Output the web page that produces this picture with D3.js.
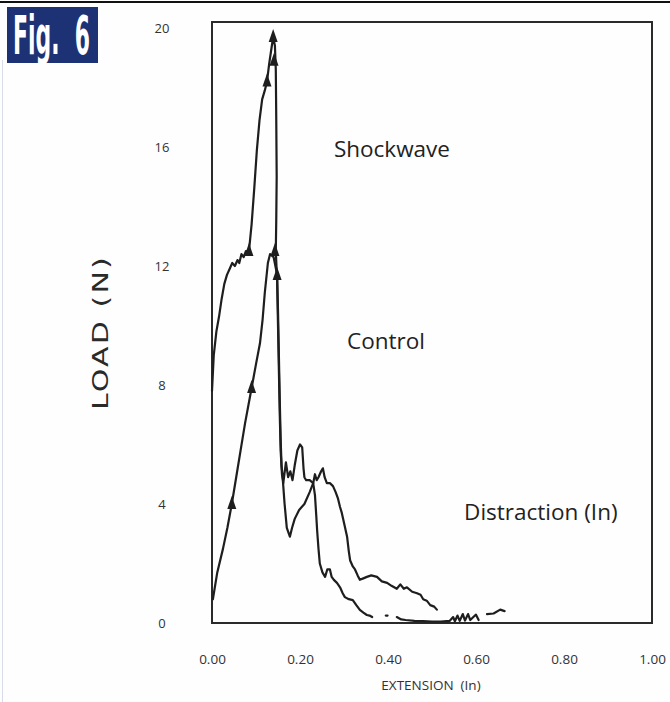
<!DOCTYPE html>
<html>
<head>
<meta charset="utf-8">
<script src="https://cdn.jsdelivr.net/npm/d3@7/dist/d3.min.js"></script>
<style>
    html, body { margin: 0; padding: 0; background: #fefefe; }
    svg { display: block; }
</style>
</head>
<body>
<svg id="chart" width="670" height="702"></svg>
<script>
// Load (N) vs extension (In)
var shockwave = [
    [0.000, 7.8], [0.004, 9.0], [0.010, 9.8], [0.016, 10.3], [0.022, 10.9], [0.028, 11.4],
    [0.034, 11.7], [0.040, 11.9], [0.046, 12.1], [0.052, 12.0], [0.058, 12.2], [0.062, 12.1],
    [0.067, 12.4], [0.072, 12.3], [0.077, 12.5], [0.084, 12.5], [0.090, 13.4], [0.096, 14.6],
    [0.102, 15.9], [0.108, 16.9], [0.114, 17.6], [0.120, 17.9], [0.125, 18.2], [0.130, 18.8],
    [0.135, 19.3], [0.139, 19.7], [0.143, 19.4], [0.145, 18.6], [0.146, 17.0], [0.147, 15.0],
    [0.146, 13.5], [0.145, 12.5], [0.148, 11.5], [0.150, 10.0], [0.152, 8.5], [0.154, 7.0],
    [0.156, 5.8], [0.159, 5.0], [0.161, 4.8], [0.165, 4.0], [0.170, 3.2], [0.177, 2.9],
    [0.182, 3.2], [0.188, 3.5], [0.198, 3.8], [0.210, 4.0], [0.222, 4.4], [0.230, 4.7],
    [0.234, 5.0], [0.238, 4.8], [0.242, 4.9], [0.248, 5.1], [0.252, 5.2], [0.256, 4.9],
    [0.261, 4.7], [0.268, 4.7], [0.275, 4.6], [0.281, 4.4], [0.286, 4.2], [0.291, 3.9],
    [0.295, 3.7], [0.301, 3.3], [0.307, 2.9], [0.311, 2.4], [0.314, 2.1], [0.320, 1.9],
    [0.325, 1.8], [0.331, 1.6], [0.336, 1.45], [0.344, 1.5], [0.352, 1.55], [0.362, 1.6],
    [0.375, 1.55], [0.386, 1.4], [0.398, 1.35], [0.408, 1.25], [0.420, 1.15], [0.428, 1.3],
    [0.436, 1.15], [0.443, 1.2], [0.455, 1.05], [0.466, 1.0], [0.474, 0.95], [0.480, 0.8],
    [0.488, 0.75], [0.496, 0.6], [0.505, 0.55], [0.511, 0.45]
];

var control = [
    [0.002, 0.8], [0.012, 1.7], [0.025, 2.5], [0.035, 3.2], [0.045, 4.0], [0.055, 4.9],
    [0.065, 5.8], [0.075, 6.7], [0.090, 7.9], [0.100, 8.7], [0.109, 9.4], [0.115, 10.2],
    [0.120, 11.1], [0.127, 12.1], [0.132, 12.4], [0.140, 12.3], [0.148, 11.7], [0.150, 10.5],
    [0.152, 9.0], [0.154, 7.5], [0.156, 6.2], [0.158, 5.3], [0.162, 4.7], [0.168, 5.4],
    [0.173, 4.9], [0.178, 5.1], [0.183, 4.8], [0.188, 5.3], [0.194, 5.8], [0.200, 6.0],
    [0.205, 5.9], [0.208, 5.2], [0.210, 4.9], [0.214, 4.8], [0.222, 4.8], [0.230, 4.7],
    [0.234, 4.3], [0.237, 3.6], [0.239, 3.1], [0.242, 2.5], [0.245, 2.0], [0.251, 1.7],
    [0.257, 1.55], [0.262, 1.8], [0.268, 1.8], [0.272, 1.55], [0.277, 1.45], [0.284, 1.35],
    [0.291, 1.2], [0.297, 1.0], [0.302, 0.87], [0.311, 0.8], [0.320, 0.77], [0.328, 0.6],
    [0.336, 0.44], [0.344, 0.35], [0.352, 0.27], [0.358, 0.25], [0.364, 0.2]
];

// bits of trace lying on the zero line
var tailSegments = [
    [[0.395, 0.25], [0.399, 0.25]],
    [[0.420, 0.2], [0.430, 0.12], [0.440, 0.1], [0.460, 0.07], [0.480, 0.06], [0.500, 0.05],
     [0.520, 0.05], [0.540, 0.07], [0.548, 0.2], [0.552, 0.06], [0.558, 0.25], [0.563, 0.07],
     [0.570, 0.3], [0.575, 0.08], [0.582, 0.3], [0.587, 0.1], [0.594, 0.2], [0.600, 0.28],
     [0.606, 0.1]],
    [[0.625, 0.3], [0.640, 0.32], [0.655, 0.45], [0.665, 0.4]]
];

var shockwaveMarks = [[0.084, 12.5], [0.125, 18.2], [0.139, 19.7], [0.141, 18.9], [0.143, 12.5]];
var controlMarks = [[0.045, 4.0], [0.090, 7.9], [0.148, 11.7]];

var yTicks = [0, 4, 8, 12, 16, 20];
var xTicks = [0, 0.2, 0.4, 0.6, 0.8, 1.0];

var labels = [
    { text: 'Shockwave', x: 0.277, y: 15.65 },
    { text: 'Control', x: 0.307, y: 9.2 },
    { text: 'Distraction (In)', x: 0.573, y: 3.45 }
];

var svg = d3.select('#chart');

var box = { left: 212, right: 652, top: 22, bottom: 623 };

var x = d3.scaleLinear().domain([0, 1]).range([box.left, box.right]);
var y = d3.scaleLinear().domain([0, 20.2]).range([box.bottom, box.top]);

// page edge remnants
svg.append('line')
    .attr('x1', 0).attr('x2', 670).attr('y1', 2).attr('y2', 2)
    .attr('stroke', '#111').attr('stroke-width', 2);
svg.append('line')
    .attr('x1', 2.5).attr('x2', 2.5).attr('y1', 60).attr('y2', 702)
    .attr('stroke', '#d6dce8').attr('stroke-width', 1);

// Fig. 6 badge, squeezed to fit like the condensed original
svg.append('rect')
    .attr('x', 7).attr('y', 7).attr('width', 91).attr('height', 56)
    .attr('fill', '#1c3275');
var badge = svg.append('text')
    .attr('x', 0).attr('y', 0)
    .style('font-family', '"Liberation Sans Narrow", "DejaVu Sans Condensed", sans-serif')
    .style('font-weight', 'bold')
    .style('font-size', '54px')
    .style('white-space', 'pre')
    .style('fill', '#fff')
    .text('Fig.  6');
var badgeW = badge.node().getComputedTextLength();
badge.attr('transform', 'translate(13,54) scale(' + (77 / badgeW) + ',1)');

// frame
svg.append('rect')
    .attr('x', box.left).attr('y', box.top)
    .attr('width', box.right - box.left)
    .attr('height', box.bottom - box.top)
    .attr('fill', 'none')
    .attr('stroke', '#2a2a2a')
    .attr('stroke-width', 2);

// axes, labels only
var yAxis = svg.append('g')
    .attr('transform', 'translate(' + box.left + ',0)')
    .call(d3.axisLeft(y).tickValues(yTicks).tickSize(0).tickPadding(50));
yAxis.select('.domain').remove();
yAxis.selectAll('text')
    .attr('text-anchor', 'middle')
    .style('font-family', '"Open Sans", sans-serif')
    .style('font-size', '13px')
    .style('fill', '#333');

var xAxis = svg.append('g')
    .attr('transform', 'translate(0,' + box.bottom + ')')
    .call(d3.axisBottom(x).tickValues(xTicks).tickFormat(d3.format('.2f')).tickSize(0).tickPadding(31));
xAxis.select('.domain').remove();
xAxis.selectAll('text')
    .style('font-family', '"Open Sans", sans-serif')
    .style('font-size', '13.5px')
    .style('fill', '#333');

svg.append('text')
    .attr('x', 431).attr('y', 690)
    .attr('text-anchor', 'middle')
    .style('font-family', '"Open Sans", sans-serif')
    .style('font-size', '13.5px')
    .style('white-space', 'pre')
    .style('fill', '#333')
    .text('EXTENSION  (In)');

// y title: wide lettering, stretched along its length
var yTitle = svg.append('text')
    .attr('x', 0).attr('y', 0)
    .style('font-family', '"DejaVu Sans", sans-serif')
    .style('font-size', '21px')
    .style('letter-spacing', '1.5px')
    .style('fill', '#2a2a2a')
    .text('LOAD (N)');
var yTitleW = yTitle.node().getComputedTextLength();
yTitle.attr('transform', 'translate(108,410) rotate(-90) scale(' + (155 / yTitleW) + ',1)');

// curves
var line = d3.line()
    .x(function (d) { return x(d[0]); })
    .y(function (d) { return y(d[1]); });

var traces = [shockwave, control].concat(tailSegments);

svg.selectAll('.trace')
    .data(traces)
    .enter().append('path')
    .attr('class', 'trace')
    .attr('d', line)
    .attr('fill', 'none')
    .attr('stroke', '#1e1e1e')
    .attr('stroke-width', 2.2)
    .attr('stroke-linejoin', 'round')
    .attr('stroke-linecap', 'round');

// triangle markers
svg.selectAll('.mark')
    .data(shockwaveMarks.concat(controlMarks))
    .enter().append('path')
    .attr('class', 'mark')
    .attr('transform', function (d) { return 'translate(' + x(d[0]) + ',' + y(d[1]) + ')'; })
    .attr('d', 'M0,-8L4.5,5L-4.5,5Z')
    .attr('fill', '#1e1e1e');

// curve names
svg.selectAll('.curve-label')
    .data(labels)
    .enter().append('text')
    .attr('class', 'curve-label')
    .attr('x', function (d) { return x(d.x); })
    .attr('y', function (d) { return y(d.y); })
    .style('font-family', '"Open Sans", sans-serif')
    .style('font-size', '22.5px')
    .style('fill', '#222')
    .text(function (d) { return d.text; });
</script>
</body>
</html>
